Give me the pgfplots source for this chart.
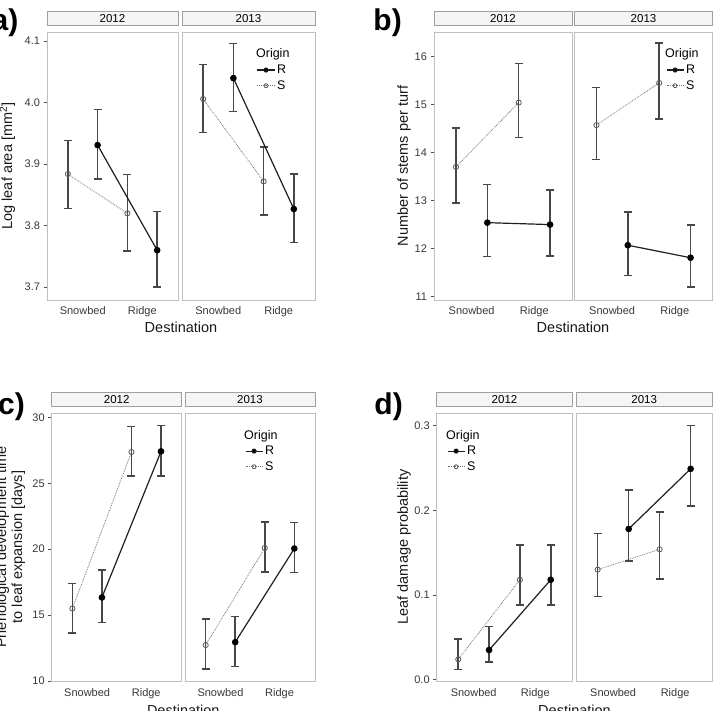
\documentclass[border=0pt]{standalone}
\usepackage{pgfplots}
\pgfplotsset{compat=1.18}
\usepackage{fontspec}
\setmainfont{Liberation Sans}

\pgfplotsset{
  facet/.style={
    scale only axis, anchor=north west, clip=false,
    xmin=0.4, xmax=2.6, xtick={1,2}, xticklabels={Snowbed,Ridge},
    xtick style={draw=none},
    axis line style={draw=gray!50, line width=0.9pt},
    ytick style={draw=black!70, line width=0.8pt},
    major tick length=3.5pt, tick align=outside, ytick pos=left,
    ticklabel style={font=\fontsize{11}{13}\selectfont, text=black!78},
    /pgf/number format/assume math mode=true,
    title style={at={(0.5,1)}, anchor=south, draw=gray!75, fill=black!4, line width=0.8pt,
      inner sep=0pt, minimum height=14pt, font=\fontsize{11.5}{12}\selectfont, yshift=0.4pt},
    legend cell align=left,
  },
  rightfacet/.style={ytick=\empty},
  Rline/.style={draw=black!88, line width=1.2pt, mark=*, mark size=2.7pt,
    mark options={solid, fill=black, draw=black}},
  Sline/.style={draw=black!55, line width=0.8pt, densely dotted, mark=o, mark size=2.6pt,
    mark options={solid, draw=black!65, fill=white, line width=0.8pt}},
  ebar/.style={error bars/.cd, y dir=both, y explicit,
    error bar style={solid, draw=black!72, line width=1.6pt},
    error mark options={solid, rotate=90, mark size=4pt, line width=1.4pt, draw=black!72},
    /pgfplots/.cd},
  Rleg/.style={draw=black!88, line width=1.1pt, mark=*, mark size=2pt, mark options={solid, fill=black}},
  Sleg/.style={draw=black!55, line width=0.8pt, densely dotted, mark=o, mark size=2pt,
    mark options={solid, draw=black!65, fill=white}},
  legstyle/.style={legend style={at={#1}, anchor=north west, draw=none, fill=none,
    font=\fontsize{12.5}{13}\selectfont, row sep=1.5pt, inner sep=0pt}},
}
\newcommand{\origlegend}{%
  \addlegendimage{empty legend}\addlegendentry{\hspace*{-21pt}Origin}
  \addlegendimage{Rleg}\addlegendentry{R}
  \addlegendimage{Sleg}\addlegendentry{S}}

\begin{document}
\begin{tikzpicture}
\useasboundingbox (0pt,0pt) rectangle (720pt,711pt);

% ---------------- a) ----------------
\begin{axis}[facet, at={(47pt,679pt)}, width=131pt, height=268pt,
  ymin=3.679, ymax=4.115, ytick={3.7,3.8,3.9,4.0,4.1},
  yticklabel style={/pgf/number format/.cd, fixed, fixed zerofill, precision=1},
  title={2012}, title style={minimum width=131pt}]
\addplot[forget plot, Sline, ebar] table[x=x,y=y,y error plus=ep,y error minus=em]{
x y ep em
0.75 3.884 0.054 0.056
1.75 3.820 0.063 0.061
};
\addplot[forget plot, Rline, ebar] table[x=x,y=y,y error plus=ep,y error minus=em]{
x y ep em
1.25 3.931 0.058 0.055
2.25 3.760 0.063 0.060
};
\end{axis}
\begin{axis}[facet, rightfacet, at={(182pt,679pt)}, width=133pt, height=268pt,
  ymin=3.679, ymax=4.115,
  title={2013}, title style={minimum width=133pt}, legstyle={(0.562,0.945)}]
\origlegend
\addplot[forget plot, Sline, ebar] table[x=x,y=y,y error plus=ep,y error minus=em]{
x y ep em
0.75 4.006 0.056 0.055
1.75 3.872 0.056 0.055
};
\addplot[forget plot, Rline, ebar] table[x=x,y=y,y error plus=ep,y error minus=em]{
x y ep em
1.25 4.040 0.056 0.054
2.25 3.827 0.057 0.054
};
\end{axis}

% ---------------- b) ----------------
\begin{axis}[facet, at={(434pt,679pt)}, width=138pt, height=268pt,
  ymin=10.93, ymax=16.51, ytick={11,12,13,14,15,16},
  title={2012}, title style={minimum width=138pt}]
\addplot[forget plot, Sline, ebar] table[x=x,y=y,y error plus=ep,y error minus=em]{
x y ep em
0.75 13.70 0.81 0.75
1.75 15.04 0.81 0.73
};
\addplot[forget plot, Rline, ebar] table[x=x,y=y,y error plus=ep,y error minus=em]{
x y ep em
1.25 12.54 0.80 0.71
2.25 12.50 0.72 0.65
};
\end{axis}
\begin{axis}[facet, rightfacet, at={(574.5pt,679pt)}, width=138pt, height=268pt,
  ymin=10.93, ymax=16.51,
  title={2013}, title style={minimum width=138pt}, legstyle={(0.662,0.945)}]
\origlegend
\addplot[forget plot, Sline, ebar] table[x=x,y=y,y error plus=ep,y error minus=em]{
x y ep em
0.75 14.57 0.78 0.72
1.75 15.45 0.83 0.75
};
\addplot[forget plot, Rline, ebar] table[x=x,y=y,y error plus=ep,y error minus=em]{
x y ep em
1.25 12.07 0.69 0.63
2.25 11.81 0.68 0.61
};
\end{axis}

% ---------------- c) ----------------
\begin{axis}[facet, at={(51.7pt,298pt)}, width=130pt, height=268.7pt,
  ymin=9.95, ymax=30.33, ytick={10,15,20,25,30},
  title={2012}, title style={minimum width=130pt}]
\addplot[forget plot, Sline, ebar] table[x=x,y=y,y error plus=ep,y error minus=em]{
x y ep em
0.75 15.50 1.90 1.86
1.75 27.37 1.92 1.81
};
\addplot[forget plot, Rline, ebar] table[x=x,y=y,y error plus=ep,y error minus=em]{
x y ep em
1.25 16.34 2.07 1.92
2.25 27.42 1.97 1.86
};
\end{axis}
\begin{axis}[facet, rightfacet, at={(185pt,298pt)}, width=130pt, height=268.7pt,
  ymin=9.95, ymax=30.33,
  title={2013}, title style={minimum width=130pt}, legstyle={(0.46,0.945)}]
\origlegend
\addplot[forget plot, Sline, ebar] table[x=x,y=y,y error plus=ep,y error minus=em]{
x y ep em
0.75 12.73 1.97 1.82
1.75 20.10 1.95 1.82
};
\addplot[forget plot, Rline, ebar] table[x=x,y=y,y error plus=ep,y error minus=em]{
x y ep em
1.25 12.95 1.95 1.86
2.25 20.05 1.97 1.82
};
\end{axis}

% ---------------- d) ----------------
\begin{axis}[facet, at={(436.7pt,298pt)}, width=135.6pt, height=268.7pt,
  ymin=-0.0024, ymax=0.315, ytick={0,0.1,0.2,0.3},
  yticklabel style={/pgf/number format/.cd, fixed, fixed zerofill, precision=1},
  title={2012}, title style={minimum width=135.6pt}, legstyle={(0.075,0.945)}]
\origlegend
\addplot[forget plot, Sline, ebar] table[x=x,y=y,y error plus=ep,y error minus=em]{
x y ep em
0.75 0.024 0.024 0.012
1.75 0.118 0.041 0.030
};
\addplot[forget plot, Rline, ebar] table[x=x,y=y,y error plus=ep,y error minus=em]{
x y ep em
1.25 0.035 0.028 0.014
2.25 0.118 0.041 0.030
};
\end{axis}
\begin{axis}[facet, rightfacet, at={(576pt,298pt)}, width=136.3pt, height=268.7pt,
  ymin=-0.0024, ymax=0.315,
  title={2013}, title style={minimum width=136.3pt}]
\addplot[forget plot, Sline, ebar] table[x=x,y=y,y error plus=ep,y error minus=em]{
x y ep em
0.75 0.130 0.043 0.032
1.75 0.154 0.044 0.035
};
\addplot[forget plot, Rline, ebar] table[x=x,y=y,y error plus=ep,y error minus=em]{
x y ep em
1.25 0.178 0.046 0.038
2.25 0.249 0.051 0.044
};
\end{axis}

% ---------------- labels ----------------
\tikzset{axtitle/.style={font=\fontsize{14.5}{16}\selectfont, text=black!90, inner sep=0pt}}
\node[axtitle, anchor=north] at (181pt,389.5pt) {Destination};
\node[axtitle, anchor=north] at (573pt,389.5pt) {Destination};
\node[axtitle, anchor=north] at (183.3pt,6pt) {Destination};
\node[axtitle, anchor=north] at (574.5pt,6pt) {Destination};
\node[axtitle, rotate=90] at (7.5pt,545pt) {Log leaf area [mm\textsuperscript{2}]};
\node[axtitle, rotate=90] at (404pt,545pt) {Number of stems per turf};
\node[axtitle, rotate=90, align=center] at (10.5pt,164pt) {Phenological development time\\to leaf expansion [days]};
\node[axtitle, rotate=90] at (404pt,164pt) {Leaf damage probability};

\tikzset{plabel/.style={font=\fontsize{30}{32}\selectfont\bfseries, inner sep=0pt, anchor=base east}}
\node[plabel] at (18.5pt,680pt) {a)};
\node[plabel] at (402pt,680pt) {b)};
\node[plabel] at (25pt,296pt) {c)};
\node[plabel] at (403pt,296pt) {d)};
\end{tikzpicture}
\end{document}
